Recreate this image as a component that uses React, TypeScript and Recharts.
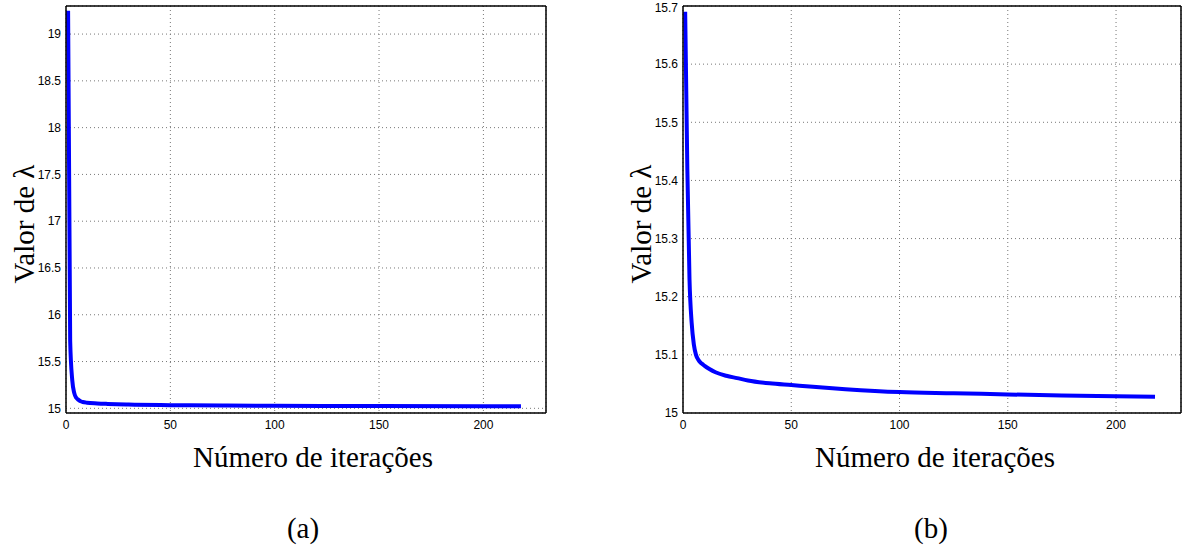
import { LineChart, Line, XAxis, YAxis, CartesianGrid, ReferenceLine } from 'recharts';

// (a) iterations and lambda values
const iterA = [1, 2, 3, 4, 5, 6, 7, 8, 10, 15, 20, 30, 50, 75, 100, 150, 200, 218];
const lambdaA = [19.25, 15.72, 15.3, 15.16, 15.11, 15.09, 15.075, 15.068, 15.06, 15.052, 15.047, 15.04, 15.034, 15.03, 15.027, 15.024, 15.022, 15.021];

// (b) right panel
const iterB = [1, 2, 3, 4, 5, 6, 7, 8, 9, 10, 12, 15, 20, 25, 30, 40, 50, 60, 75, 100, 125, 150, 175, 200, 218];
const lambdaB = [15.69, 15.42, 15.23, 15.155, 15.118, 15.1, 15.092, 15.087, 15.084, 15.081, 15.076, 15.07, 15.064, 15.06, 15.056, 15.051, 15.048, 15.045, 15.041, 15.036, 15.034, 15.032, 15.03, 15.029, 15.028];

const xTicks = [0, 50, 100, 150, 200];
const yTicksA = [15, 15.5, 16, 16.5, 17, 17.5, 18, 18.5, 19];
const yTicksB = [15, 15.1, 15.2, 15.3, 15.4, 15.5, 15.6, 15.7];

const tickFont = { fontSize: 12, fill: '#000', fontFamily: 'Liberation Sans, Arial, sans-serif' };
const serif = 'Liberation Serif, "Times New Roman", serif';

interface PanelProps {
  data: { iter: number; lambda: number }[];
  yDomain: [number, number];
  yTicks: number[];
  width: number;
  yAxisWidth: number;
}

function Panel({ data, yDomain, yTicks, width, yAxisWidth }: PanelProps) {
  return (
    <LineChart width={width} height={440} data={data} margin={{ top: 6, right: 14, left: 0, bottom: 0 }}>
      <CartesianGrid stroke="#777" strokeDasharray="1 3" />
      <XAxis
        type="number"
        dataKey="iter"
        domain={[0, 230]}
        ticks={xTicks}
        height={27}
        tickSize={0}
        tickMargin={7}
        tick={tickFont}
        axisLine={{ stroke: '#000', strokeWidth: 1.5 }}
        allowDataOverflow
      />
      <YAxis
        type="number"
        domain={yDomain}
        ticks={yTicks}
        width={yAxisWidth}
        tickSize={0}
        tickMargin={5}
        tick={tickFont}
        tickFormatter={(v: number) => String(Math.round(v * 10) / 10)}
        axisLine={{ stroke: '#000', strokeWidth: 1.5 }}
        allowDataOverflow
      />
      <ReferenceLine y={yDomain[1]} stroke="#000" strokeWidth={1.5} />
      <ReferenceLine x={230} stroke="#000" strokeWidth={1.5} />
      <Line
        type="monotone"
        dataKey="lambda"
        stroke="#0000ff"
        strokeWidth={4}
        dot={false}
        isAnimationActive={false}
      />
    </LineChart>
  );
}

const abs = (left: number, top: number): React.CSSProperties => ({ position: 'absolute', left, top });

export default function App() {
  const dataA = iterA.map((iter, i) => ({ iter, lambda: lambdaA[i] }));
  const dataB = iterB.map((iter, i) => ({ iter, lambda: lambdaB[i] }));

  const titleStyle: React.CSSProperties = { fontFamily: serif, fontSize: 29, color: '#000', whiteSpace: 'nowrap', lineHeight: 1 };
  const ylabel = (left: number): React.CSSProperties => ({
    ...titleStyle,
    position: 'absolute',
    left,
    top: 224,
    transform: 'translate(-50%, -50%) rotate(-90deg)',
  });
  const centered = (left: number, top: number): React.CSSProperties => ({
    ...titleStyle,
    position: 'absolute',
    left,
    top,
    transform: 'translate(-50%, -50%)',
  });

  return (
    <div style={{ position: 'absolute', left: 0, top: 0, width: 1198, height: 549, background: '#fff' }}>
      <div style={abs(0, 0)}>
        <Panel data={dataA} yDomain={[14.95, 19.3]} yTicks={yTicksA} width={560} yAxisWidth={66} />
      </div>
      <div style={abs(610, 0)}>
        <Panel data={dataB} yDomain={[15, 15.7]} yTicks={yTicksB} width={585} yAxisWidth={73} />
      </div>
      <div style={ylabel(24)}>Valor de λ</div>
      <div style={ylabel(641)}>Valor de λ</div>
      <div style={centered(313, 457)}>Número de iterações</div>
      <div style={centered(935, 457)}>Número de iterações</div>
      <div style={centered(303, 528)}>(a)</div>
      <div style={centered(931, 528)}>(b)</div>
    </div>
  );
}
